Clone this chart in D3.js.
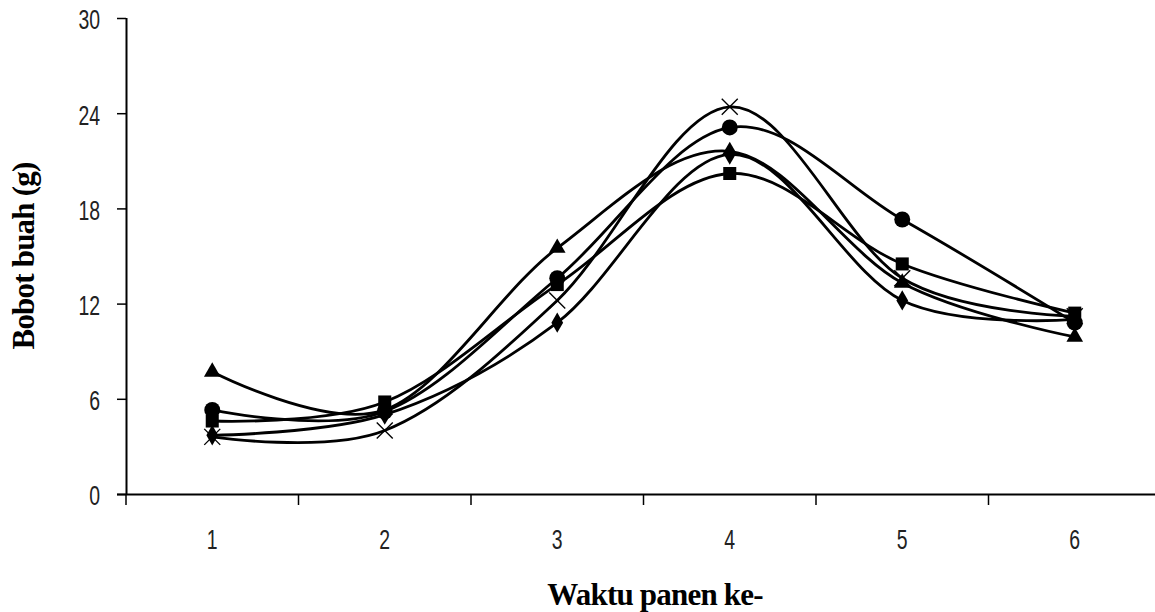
<!DOCTYPE html>
<html>
<head>
<meta charset="utf-8">
<script src="https://cdn.jsdelivr.net/npm/d3@7"></script>
<style>
  body { margin: 0; background: #fff; }
  .tick text { font-family: "Liberation Sans", "DejaVu Sans", sans-serif; font-size: 27px; fill: #222; }
  .title { font-family: "Liberation Serif", "Times New Roman", serif; font-weight: bold; font-size: 31px; letter-spacing: -0.8px; fill: #000; }
</style>
</head>
<body>
<div id="chart"></div>
<script>
const harvests = [1, 2, 3, 4, 5, 6];
const yTicks = [0, 6, 12, 18, 24, 30];

const diamondSeries = [3.7, 5.0, 10.8, 21.4, 12.2, 11.0];
const squareSeries = [4.6, 5.8, 13.2, 20.2, 14.5, 11.4];
const triangleSeries = [7.7, 5.3, 15.5, 21.6, 13.3, 9.9];
const crossSeries = [3.6, 4.0, 12.2, 24.4, 13.6, 11.2];
const circleSeries = [5.3, 5.2, 13.6, 23.1, 17.3, 10.8];

const series = [
  { marker: 'diamond', values: diamondSeries },
  { marker: 'square', values: squareSeries },
  { marker: 'triangle', values: triangleSeries },
  { marker: 'cross', values: crossSeries },
  { marker: 'circle', values: circleSeries }
];

const width = 1155, height = 612;
const margin = { top: 18, left: 126, bottom: 118 };
const squeeze = 0.72; // tick labels are drawn in a narrow face

const svg = d3.select('#chart').append('svg')
  .attr('width', width)
  .attr('height', height);

const scaleX = d3.scaleBand().domain(harvests).range([margin.left, margin.left + 6 * 172.5]);
const scaleY = d3.scaleLinear().domain([0, 30]).range([height - margin.bottom, margin.top]);

// axes
const axisX = svg.append('g')
  .attr('transform', `translate(0,${scaleY(0)})`)
  .call(d3.axisBottom(scaleX).tickSize(0).tickPadding(46));
axisX.select('.domain').attr('d', `M${margin.left - 9},0.5H${width}`).attr('stroke-width', 2);
axisX.selectAll('.tick text').attr('dy', '0.35em').attr('transform', `scale(${squeeze},1)`);
// tick marks between categories
svg.append('g').selectAll('line')
  .data(d3.range(0, 7))
  .join('line')
  .attr('x1', i => margin.left + i * scaleX.step())
  .attr('x2', i => margin.left + i * scaleX.step())
  .attr('y1', scaleY(0))
  .attr('y2', scaleY(0) + 11)
  .attr('stroke', '#000')
  .attr('stroke-width', 1.5);

const axisY = svg.append('g')
  .attr('transform', `translate(${margin.left},0)`)
  .call(d3.axisLeft(scaleY).tickValues(yTicks).tickSize(9).tickPadding(17));
axisY.select('.domain').attr('stroke-width', 2).attr('d', `M0.5,${scaleY(30)}V${scaleY(0)}`);
axisY.selectAll('.tick line').attr('stroke-width', 1.5);
axisY.selectAll('.tick text')
  .attr('x', -26 / squeeze)
  .attr('dy', '0.4em')
  .attr('transform', `scale(${squeeze},1)`);

svg.append('text').classed('title', true)
  .attr('transform', `translate(34,${(scaleY(0) + scaleY(30)) / 2})rotate(-90)`)
  .style('text-anchor', 'middle')
  .text('Bobot buah (g)');

svg.append('text').classed('title', true)
  .attr('x', 655).attr('y', 605)
  .style('text-anchor', 'middle')
  .text('Waktu panen ke-');

// lines
const cx = d => scaleX(d) + scaleX.bandwidth() / 2;
const line = d3.line()
  .x((v, i) => cx(harvests[i]))
  .y(v => scaleY(v))
  .curve(d3.curveCatmullRom.alpha(0));

svg.append('g').selectAll('path')
  .data(series)
  .join('path')
  .attr('d', s => line(s.values))
  .attr('fill', 'none')
  .attr('stroke', '#000')
  .attr('stroke-width', 2.8);

// markers
const symbolType = {
  diamond: d3.symbolDiamond,
  square: d3.symbolSquare,
  triangle: d3.symbolTriangle,
  circle: d3.symbolCircle
};
const symbolSize = { diamond: 120, square: 170, triangle: 120, circle: 200 };

series.forEach(s => {
  const g = svg.append('g');
  s.values.forEach((v, i) => {
    const x = cx(harvests[i]), y = scaleY(v);
    if (s.marker === 'cross') {
      g.append('path')
        .attr('d', `M${x - 8},${y - 8}L${x + 8},${y + 8}M${x - 8},${y + 8}L${x + 8},${y - 8}`)
        .attr('stroke', '#000')
        .attr('stroke-width', 1.4);
    } else {
      g.append('path')
        .attr('transform', `translate(${x},${y})`)
        .attr('d', d3.symbol().type(symbolType[s.marker]).size(symbolSize[s.marker])())
        .attr('fill', '#000');
    }
  });
});
</script>
</body>
</html>
